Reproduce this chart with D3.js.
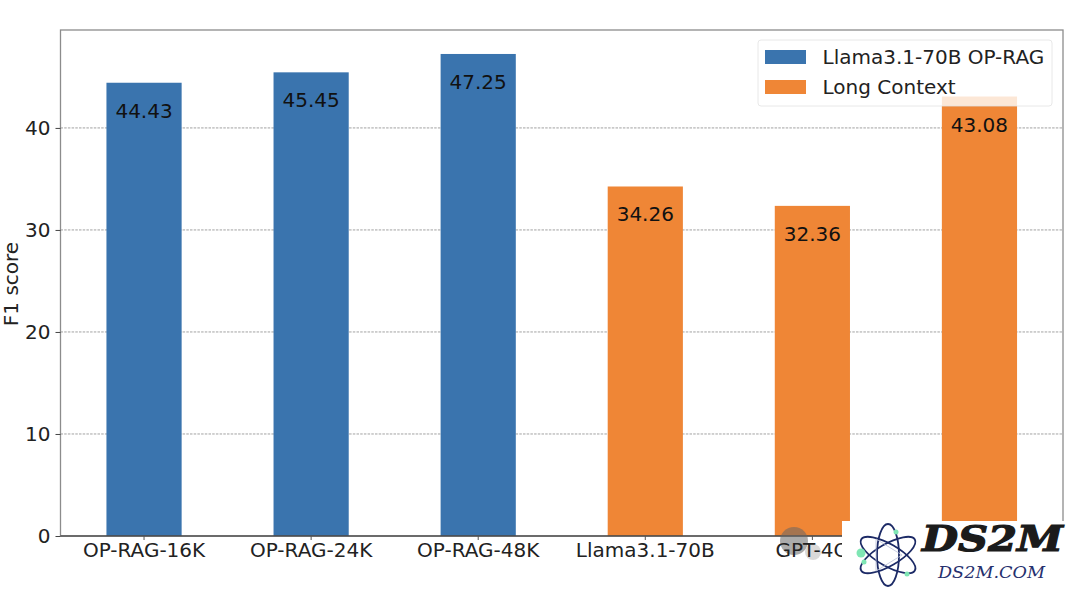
<!DOCTYPE html>
<html><head><meta charset="utf-8">
<script src="https://cdn.jsdelivr.net/npm/d3@7"></script>
<style>html,body{margin:0;padding:0;background:#fff}svg{display:block;font-family:"DejaVu Sans",sans-serif}</style>
</head><body><svg id="c" width="1080" height="589"></svg>
<script>
const categories=["OP-RAG-16K","OP-RAG-24K","OP-RAG-48K","Llama3.1-70B","GPT-4O",""];
const values=[44.43,45.45,47.25,34.26,32.36,43.08];
const groups=["Llama3.1-70B OP-RAG","Llama3.1-70B OP-RAG","Llama3.1-70B OP-RAG","Long Context","Long Context","Long Context"];
const legendNames=["Llama3.1-70B OP-RAG","Long Context"];
const yTicks=[0,10,20,30,40];
const palette=["#3a74ae","#ef8636"];

const svg=d3.select("#c");
const L=60.5,R=1063,T=30,B=536;
const x=d3.scaleBand().domain(d3.range(categories.length)).range([L,R]).paddingInner(.55).paddingOuter(.275);
const y=d3.scaleLinear().domain([0,49.6]).range([B,T]);
const color=d3.scaleOrdinal().domain(legendNames).range(palette);

// grid
svg.append("g").selectAll("line").data(yTicks.slice(1)).join("line")
 .attr("x1",L).attr("x2",R).attr("y1",d=>y(d)).attr("y2",d=>y(d))
 .attr("stroke","#8a8a8a").attr("stroke-width",.8).attr("stroke-dasharray","2.5,1.2");

// bars
svg.append("g").selectAll("rect").data(values).join("rect")
 .attr("x",(d,i)=>x(i)).attr("width",x.bandwidth())
 .attr("y",d=>y(d)).attr("height",d=>B-y(d))
 .attr("fill",(d,i)=>color(groups[i]));

// frame
svg.append("rect").attr("x",L).attr("y",T).attr("width",R-L).attr("height",B-T)
 .attr("fill","none").attr("stroke","#8c8c8c").attr("stroke-width",1.3);
svg.append("line").attr("x1",L).attr("x2",R).attr("y1",B).attr("y2",B).attr("stroke","#222").attr("stroke-width",1.2);

// watermark bubble (under the tick labels)
svg.append("circle").attr("cx",794).attr("cy",541).attr("r",14).attr("fill","#666").attr("fill-opacity",.55);
svg.append("circle").attr("cx",813).attr("cy",552).attr("r",8).attr("fill","#aaa").attr("fill-opacity",.45);

// axes
const gy=svg.append("g").attr("transform",`translate(${L},0)`).call(d3.axisLeft(y).tickValues(yTicks).tickSize(5).tickPadding(5));
gy.select(".domain").remove();
gy.selectAll("line").attr("stroke","#444");
gy.selectAll("text").attr("font-size",20).attr("fill","#222").attr("font-family","DejaVu Sans");
const gx=svg.append("g").attr("transform",`translate(0,${B})`).call(d3.axisBottom(x).tickFormat(i=>categories[i]).tickSize(4).tickPadding(3));
gx.select(".domain").remove();
gx.selectAll("line").attr("stroke","#555");
gx.selectAll("text").attr("font-size",20).attr("fill","#222").attr("font-family","DejaVu Sans");

svg.append("text").attr("transform","translate(18,284) rotate(-90)").attr("text-anchor","middle")
 .attr("font-size",20).attr("fill","#222").text("F1 score");

// value labels
svg.append("g").selectAll("text").data(values).join("text")
 .attr("x",(d,i)=>x(i)+x.bandwidth()/2).attr("y",d=>y(d)+35)
 .attr("text-anchor","middle").attr("font-size",20).attr("fill","#111")
 .text(d=>d.toFixed(2));

// legend
const lg=svg.append("g");
lg.append("rect").attr("x",758).attr("y",40).attr("width",294).attr("height",66).attr("rx",3)
 .attr("fill","#fff").attr("fill-opacity",.8).attr("stroke","#e2e2e2").attr("stroke-width",.8);
legendNames.forEach((n,i)=>{
 const yy=[57,87][i];
 lg.append("rect").attr("x",765).attr("y",yy-7).attr("width",41).attr("height",14).attr("fill",color(n));
 lg.append("text").attr("x",822.5).attr("y",yy+7).attr("font-size",20).attr("fill","#222").text(n);
});

// logo panel
const logo=svg.append("g");
logo.append("rect").attr("x",842).attr("y",521).attr("width",238).attr("height",68).attr("fill","#fff");
const ax=888,ay=555;
[0,60,120].forEach(a=>{
 logo.append("ellipse").attr("cx",ax).attr("cy",ay).attr("rx",31).attr("ry",11)
  .attr("transform",`rotate(${a+30} ${ax} ${ay})`).attr("fill","none").attr("stroke","#1c2a66").attr("stroke-width",1.8);
});
logo.append("path").attr("d",`M${ax-12} ${ay-16}L${ax+14} ${ay}L${ax-12} ${ay+16}Z`).attr("fill","none").attr("stroke","#b9bfd6").attr("stroke-width",.8);
[[861,553,4.5],[864,562,2.5],[896,532,2.5],[907,574,2.5]].forEach(([cx,cy,r])=>
 logo.append("circle").attr("cx",cx).attr("cy",cy).attr("r",r).attr("fill","#7fe6b4"));
logo.append("text").attr("x",922).attr("y",551).attr("font-family","DejaVu Serif").attr("font-weight","bold").attr("font-style","italic")
 .attr("font-size",35).attr("textLength",141).attr("lengthAdjust","spacingAndGlyphs")
 .attr("fill","#1b1b1b").attr("stroke","#1b1b1b").attr("stroke-width",1.2).text("DS2M");
logo.append("text").attr("x",938).attr("y",578).attr("font-family","DejaVu Serif").attr("font-style","italic")
 .attr("font-size",16).attr("textLength",107).attr("lengthAdjust","spacingAndGlyphs")
 .attr("fill","#26306e").text("DS2M.COM");
</script></body></html>
